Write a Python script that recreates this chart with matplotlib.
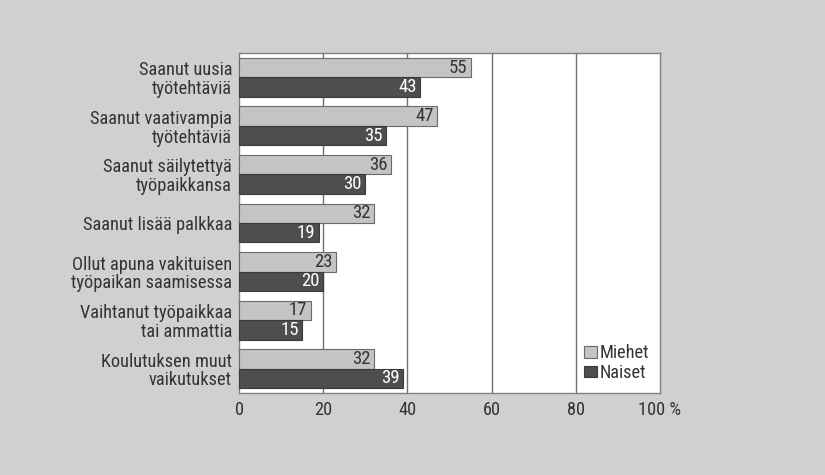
import matplotlib
matplotlib.use("Agg")
import matplotlib.pyplot as plt
import numpy as np

categories = [
    "Saanut uusia\ntyötehtäviä",
    "Saanut vaativampia\ntyötehtäviä",
    "Saanut säilytettyä\ntyöpaikkansa",
    "Saanut lisää palkkaa",
    "Ollut apuna vakituisen\ntyöpaikan saamisessa",
    "Vaihtanut työpaikkaa\ntai ammattia",
    "Koulutuksen muut\nvaikutukset",
]
miehet = [55, 47, 36, 32, 23, 17, 32]
naiset = [43, 35, 30, 19, 20, 15, 39]
xticks = [0, 20, 40, 60, 80, 100]
xticklabels = ["0", "20", "40", "60", "80", "100 %"]

FONT = ["Roboto Condensed", "DejaVu Sans"]
plt.rcParams["font.family"] = FONT

fig = plt.figure(figsize=(8.25, 4.75), dpi=100)
fig.patch.set_facecolor("#d0d0d0")
ax = fig.add_axes([0.2897, 0.1726, 0.5103, 0.7158])
ax.set_facecolor("white")

y = np.arange(len(categories))
h = 0.4
c_m = "#c4c4c4"
c_n = "#4e4e4e"
ax.barh(y - h / 2, miehet, height=h, color=c_m, edgecolor="#6a6a6a", linewidth=0.8, label="Miehet", zorder=3)
ax.barh(y + h / 2, naiset, height=h, color=c_n, edgecolor="#3a3a3a", linewidth=0.8, label="Naiset", zorder=3)

for yi, v in zip(y, miehet):
    ax.text(v - 0.8, yi - h / 2, str(v), ha="right", va="center", fontsize=13.5, color="#333333", zorder=4)
for yi, v in zip(y, naiset):
    ax.text(v - 0.8, yi + h / 2, str(v), ha="right", va="center", fontsize=13.5, color="white", zorder=4)

ax.set_xlim(0, 100)
ax.set_ylim(len(categories) - 0.5, -0.5)
ax.set_yticks(y)
ax.set_yticklabels(categories, fontsize=13.2, color="#333333", linespacing=1.05)
ax.set_xticks(xticks)
ax.set_xticklabels(xticklabels, fontsize=13.2, color="#333333")
ax.tick_params(axis="both", length=0, pad=5)
ax.tick_params(axis="x", pad=6)

for gx in [20, 40, 60, 80]:
    ax.axvline(gx, color="#707070", linewidth=1.0, zorder=1)
for s in ax.spines.values():
    s.set_color("#808080")
    s.set_linewidth(1.0)

leg = ax.legend(loc="lower right", frameon=False, fontsize=13.2, handlelength=0.7, handleheight=0.6,
                handletextpad=0.15, labelspacing=0.1, borderaxespad=0.2)
for t in leg.get_texts():
    t.set_color("#333333")

fig.savefig("out.png", dpi=100, facecolor=fig.get_facecolor())
